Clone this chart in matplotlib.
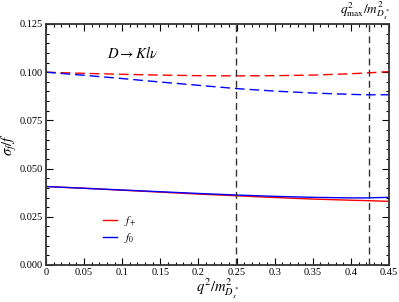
import numpy as np
import matplotlib
matplotlib.use("Agg")
import matplotlib.pyplot as plt
from matplotlib.ticker import MultipleLocator

plt.rcParams["font.family"] = "Liberation Serif"
plt.rcParams["mathtext.fontset"] = "stix"

# values
q2 = [0.0, 0.05, 0.10, 0.15, 0.20, 0.25, 0.30, 0.35, 0.40, 0.42, 0.45]
fplus_dash = [0.1000, 0.0994, 0.0989, 0.0985, 0.0982, 0.0981, 0.0982, 0.0985, 0.0992, 0.0996, 0.1003]
fzero_dash = [0.1000, 0.0984, 0.0967, 0.0949, 0.0932, 0.0915, 0.0902, 0.0892, 0.0885, 0.0883, 0.0883]
fplus_solid = [0.0407, 0.0398, 0.0388, 0.0378, 0.0368, 0.0359, 0.0350, 0.0342, 0.0336, 0.0334, 0.0330]
fzero_solid = [0.0407, 0.0398, 0.0389, 0.0380, 0.0371, 0.0363, 0.0356, 0.0351, 0.0348, 0.0348, 0.0351]
vlines = [0.249, 0.4243]

fig = plt.figure(figsize=(3.99, 3.02), dpi=100)
ax = fig.add_axes([46 / 399, 37 / 302, 343 / 399, 241 / 302])

ax.plot(q2, fplus_dash, color="red", ls=(0, (7, 3.5)), lw=1.0)
ax.plot(q2, fzero_dash, color="blue", ls=(0, (7, 3.5)), lw=1.0)
ax.plot(q2, fplus_solid, color="red", lw=1.0, label="$f_+$")
ax.plot(q2, fzero_solid, color="blue", lw=1.0, label="$f_0$")
for v in vlines:
    ax.axvline(v, color="#333333", ls=(0, (5, 3)), lw=1.0)

ax.set_xlim(0, 0.45)
ax.set_ylim(0, 0.125)
ax.xaxis.set_major_locator(MultipleLocator(0.05))
ax.xaxis.set_minor_locator(MultipleLocator(0.01))
ax.yaxis.set_major_locator(MultipleLocator(0.025))
ax.yaxis.set_minor_locator(MultipleLocator(0.005))
ax.set_xticks(np.arange(0, 0.451, 0.05))
ax.set_xticklabels(["0", "0.05", "0.1", "0.15", "0.2", "0.25", "0.3", "0.35", "0.4", "0.45"])
ax.set_yticklabels(["%.3f" % t for t in ax.get_yticks()])
ax.tick_params(which="both", direction="in", top=True, right=True, labelsize=7.5, width=0.8, pad=2)
ax.tick_params(which="major", length=5)
ax.tick_params(which="minor", length=2.5)
for s in ax.spines.values():
    s.set_linewidth(1.3)
    s.set_color("#333333")

ax.set_xlabel(r"$q^2/m^2_{D_s^*}$", fontsize=10.5, labelpad=0)
ax.set_ylabel(r"$\sigma_{f}/f$", fontsize=10.5, labelpad=1)
ax.text(0.08, 0.1075, r"$D \rightarrow K l \nu$", fontsize=10.5)
ax.text(0.419, 0.1258, r"$q^2_{\rm max}/m^2_{D_s^*}$", fontsize=9.5, ha="center", va="bottom")

ax.legend(loc="lower left", bbox_to_anchor=(0.165, 0.085), frameon=False, fontsize=8,
          handlelength=1.3, handletextpad=0.6, labelspacing=0.25, borderpad=0, borderaxespad=0)

fig.savefig("out.png", dpi=100)
